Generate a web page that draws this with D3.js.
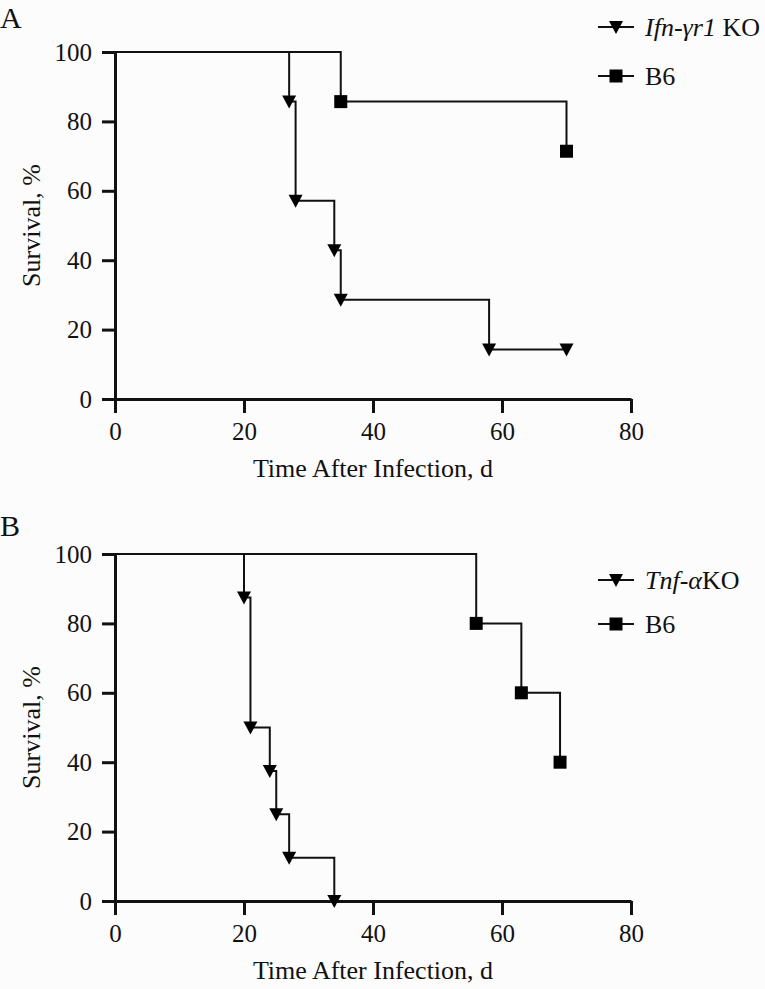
<!DOCTYPE html>
<html><head><meta charset="utf-8">
<script src="https://cdn.jsdelivr.net/npm/d3@7"></script>
<style>
html,body{margin:0;padding:0;background:#fcfcfc;}
svg{display:block;}
text{font-family:"Liberation Serif","DejaVu Serif",serif;fill:#111;}
</style></head>
<body>
<script>
// ---- data ----
const xTicks = [0, 20, 40, 60, 80];
const yTicks = [0, 20, 40, 60, 80, 100];

// Panel A
const daysA_KO = [0, 27, 28, 34, 35, 58, 70];
const survA_KO = [100, 85.7, 57.1, 42.9, 28.6, 14.3, 14.3];
const daysA_B6 = [0, 35, 70];
const survA_B6 = [100, 85.7, 71.4];

// Panel B
const daysB_KO = [0, 20, 21, 24, 25, 27, 34];
const survB_KO = [100, 87.5, 50, 37.5, 25, 12.5, 0];
const daysB_B6 = [0, 56, 63, 69];
const survB_B6 = [100, 80, 60, 40];

const panelLabels = ["A", "B"];
const xTitle = "Time After Infection, d";
const yTitle = "Survival, %";

const W = 765, H = 989;
const svg = d3.select("body").append("svg").attr("width", W).attr("height", H);
svg.append("rect").attr("width", W).attr("height", H).attr("fill", "#fcfcfc");

const triDown = {
  draw(ctx) {
    ctx.moveTo(-7, -6); ctx.lineTo(7, -6); ctx.lineTo(0, 7); ctx.closePath();
  }
};

function drawPanel(top, label, labelY, series, legend) {
  const x = d3.scaleLinear().domain([0, 80]).range([115, 631]);
  const y = d3.scaleLinear().domain([0, 100]).range([top + 347, top]);
  const g = svg.append("g");

  g.append("text").attr("x", 0).attr("y", labelY).attr("font-size", 30).text(label);

  const xa = g.append("g").attr("transform", `translate(0,${y(0)})`)
    .call(d3.axisBottom(x).tickValues(xTicks).tickSize(14).tickPadding(9).tickSizeOuter(0));
  const ya = g.append("g").attr("transform", `translate(${x(0)},0)`)
    .call(d3.axisLeft(y).tickValues(yTicks).tickSize(13).tickPadding(10).tickSizeOuter(0));
  [xa, ya].forEach(a => {
    a.select(".domain").attr("stroke", "#111").attr("stroke-width", 3);
    a.selectAll(".tick line").attr("stroke", "#111").attr("stroke-width", 3);
    a.selectAll(".tick text").attr("font-size", 25).attr("font-family", '"Liberation Serif",serif').attr("fill", "#111");
  });

  g.append("text").attr("x", (x(0) + x(80)) / 2).attr("y", y(0) + 78)
    .attr("text-anchor", "middle").attr("font-size", 26).text(xTitle);
  g.append("text").attr("transform", `translate(40,${(y(0) + y(100)) / 2}) rotate(-90)`)
    .attr("text-anchor", "middle").attr("font-size", 26).text(yTitle);

  const line = d3.line().x(d => x(d[0])).y(d => y(d[1])).curve(d3.curveStepAfter);
  series.forEach(s => {
    const pts = s.days.map((d, i) => [d, s.surv[i]]);
    g.append("path").attr("d", line(pts)).attr("fill", "none").attr("stroke", "#111").attr("stroke-width", 2);
    const sym = d3.symbol().type(s.shape === "tri" ? triDown : d3.symbolSquare).size(s.shape === "tri" ? 1 : 169);
    g.selectAll(null).data(pts.slice(1)).enter().append("path")
      .attr("d", sym()).attr("transform", d => `translate(${x(d[0])},${y(d[1])})`).attr("fill", "#000");
  });

  legend.forEach(L => {
    const ly = L.y;
    g.append("line").attr("x1", 598).attr("x2", 634).attr("y1", ly).attr("y2", ly).attr("stroke", "#111").attr("stroke-width", 2);
    const sym = d3.symbol().type(L.shape === "tri" ? triDown : d3.symbolSquare).size(L.shape === "tri" ? 1 : 169);
    g.append("path").attr("d", sym()).attr("transform", `translate(616,${ly})`).attr("fill", "#000");
    const t = g.append("text").attr("x", 645).attr("y", ly + 9).attr("font-size", 26);
    L.parts.forEach(p => t.append("tspan").attr("font-style", p.it ? "italic" : "normal").text(p.t));
  });
}

drawPanel(52, panelLabels[0], 28,
  [{days: daysA_KO, surv: survA_KO, shape: "tri"}, {days: daysA_B6, surv: survA_B6, shape: "sq"}],
  [{y: 27, shape: "tri", parts: [{t: "Ifn-γr1", it: true}, {t: " KO", it: false}]},
   {y: 76, shape: "sq", parts: [{t: "B6", it: false}]}]);

drawPanel(554, panelLabels[1], 536,
  [{days: daysB_KO, surv: survB_KO, shape: "tri"}, {days: daysB_B6, surv: survB_B6, shape: "sq"}],
  [{y: 580, shape: "tri", parts: [{t: "Tnf-α", it: true}, {t: "KO", it: false}]},
   {y: 624, shape: "sq", parts: [{t: "B6", it: false}]}]);
</script>
</body></html>
